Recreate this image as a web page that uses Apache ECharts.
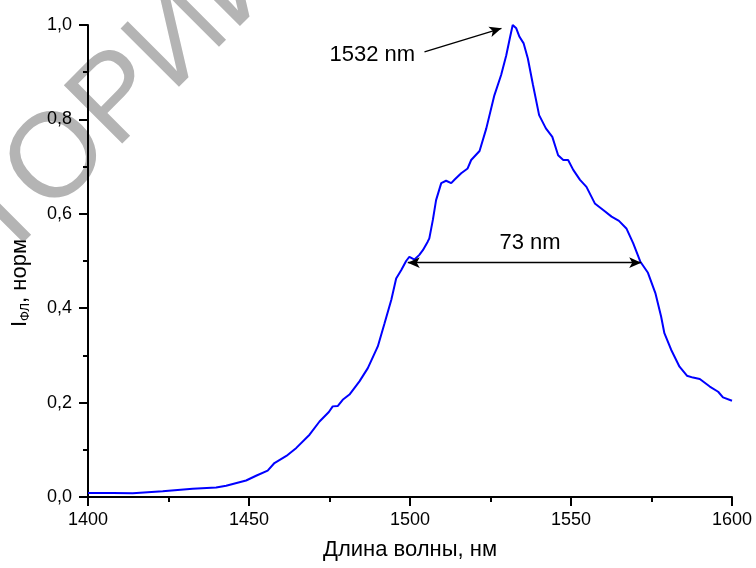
<!DOCTYPE html>
<html>
<head>
<meta charset="utf-8">
<script src="https://cdn.jsdelivr.net/npm/echarts@6/dist/echarts.min.js"></script>
<style>html,body{margin:0;padding:0;background:#fff}#c{width:756px;height:568px}</style>
</head>
<body>
<div id="c"></div>
<script>
// ---- data ----
const wavelength = [1400,1407.7,1413.9,1423.2,1432.5,1439.8,1442.9,1449.1,1452.2,1455.8,1457.9,1461.6,1464.7,1468.8,1471.9,1474.8,1476,1477.6,1479.1,1481.2,1484.3,1486.9,1490,1492.1,1494.2,1495.7,1497.3,1498.8,1499.8,1501.4,1502.9,1504,1505.5,1506,1507.1,1508.1,1509.7,1511.2,1512.8,1513.8,1515.9,1517.9,1519,1521.6,1523.7,1526.2,1528.3,1529.9,1531.1,1531.9,1533,1534,1535.3,1536.6,1538.2,1540.1,1542.2,1544.2,1546,1547.6,1549.1,1550.7,1552.8,1554.8,1557.4,1560,1562.6,1564.9,1567.2,1569.3,1571.5,1573.9,1576.2,1578,1579,1581.1,1583.7,1586,1587.9,1590,1593.1,1595.7,1597.2,1600];
const intensity = [0.0085,0.0085,0.0077,0.012,0.0175,0.020,0.024,0.035,0.045,0.056,0.072,0.087,0.104,0.132,0.160,0.180,0.192,0.193,0.206,0.217,0.245,0.273,0.319,0.368,0.418,0.463,0.481,0.500,0.509,0.503,0.513,0.523,0.541,0.548,0.587,0.629,0.665,0.670,0.665,0.672,0.686,0.696,0.714,0.733,0.781,0.851,0.894,0.936,0.975,1.0,0.993,0.975,0.961,0.929,0.873,0.809,0.781,0.763,0.724,0.714,0.714,0.693,0.672,0.657,0.622,0.608,0.594,0.585,0.569,0.538,0.499,0.475,0.432,0.382,0.347,0.312,0.276,0.257,0.253,0.250,0.234,0.223,0.211,0.204];
const xTicks = [1400,1450,1500,1550,1600];
const yTicks = [0,0.2,0.4,0.6,0.8,1.0];
const peakLabel = ['1532 nm', 1488.3, 0.937];
const peakArrow = [[1504.5,0.943],[1528.4,0.993]];
const fwhmLabel = ['73 nm', 1537.3, 0.538];
const fwhmArrow = [[1499.3,0.4965],[1571.8,0.4965]];

const series = wavelength.map((w,i)=>[w,intensity[i]]);
const chart = echarts.init(document.getElementById('c'), null, {renderer:'canvas'});
const FF = '"Liberation Sans", Arial, sans-serif';
chart.setOption({
  animation:false,
  backgroundColor:'#fff',
  grid:{left:88,right:24,top:25,bottom:71,containLabel:false},
  xAxis:{
    type:'value',min:xTicks[0],max:xTicks[xTicks.length-1],interval:50,
    axisLine:{lineStyle:{color:'#000',width:2}},
    axisTick:{length:9,lineStyle:{color:'#000',width:2}},
    minorTick:{show:true,splitNumber:2,length:5,lineStyle:{color:'#000',width:2}},
    splitLine:{show:false},
    axisLabel:{color:'#000',fontSize:18,fontFamily:FF,margin:14,formatter:v=>String(v)},
    name:'Длина волны, нм',nameLocation:'middle',nameGap:42,
    nameTextStyle:{color:'#000',fontSize:22,fontFamily:FF}
  },
  yAxis:{
    type:'value',min:yTicks[0],max:yTicks[yTicks.length-1],interval:0.2,
    axisLine:{show:true,lineStyle:{color:'#000',width:2}},
    axisTick:{show:true,length:9,lineStyle:{color:'#000',width:2}},
    minorTick:{show:true,splitNumber:2,length:5,lineStyle:{color:'#000',width:2}},
    splitLine:{show:false},
    axisLabel:{color:'#000',fontSize:18,fontFamily:FF,margin:16,
      formatter:v=>v.toFixed(1).replace('.',',')}
  },
  graphic:[
    {type:'text',z:-10,silent:true,x:-52,y:271,rotation:45*Math.PI/180,
     style:{text:'РЕПОЗИТОРИЙ',fill:'#b4b4b4',font:'120px '+FF,textAlign:'center',textVerticalAlign:'middle'}},
    {type:'text',x:20,y:283,rotation:Math.PI/2,
     style:{text:'{a|I}{b|ФЛ}{a|, норм}',textAlign:'center',textVerticalAlign:'middle',
       rich:{a:{fontSize:22,fontFamily:FF,fill:'#000',color:'#000'},
             b:{fontSize:13,fontFamily:FF,fill:'#000',color:'#000',padding:[10,0,0,0]}}}}
  ],
  series:[{
    type:'line',data:series,showSymbol:false,symbol:'none',
    lineStyle:{color:'#0000ff',width:2},
    markLine:{silent:true,symbolSize:[8,12],
      lineStyle:{color:'#000',width:1.3,type:'solid'},label:{show:false},
      data:[
        [{coord:peakArrow[0],symbol:'none'},{coord:peakArrow[1],symbol:'arrow'}],
        [{coord:fwhmArrow[0],symbol:'arrow'},{coord:fwhmArrow[1],symbol:'arrow'}]
      ]},
    markPoint:{silent:true,symbol:'circle',symbolSize:0,
      label:{show:true,color:'#000',fontSize:22,fontFamily:FF,formatter:p=>p.name},
      data:[
        {name:peakLabel[0],coord:[peakLabel[1],peakLabel[2]]},
        {name:fwhmLabel[0],coord:[fwhmLabel[1],fwhmLabel[2]]}
      ]}
  }]
});
</script>
</body>
</html>
